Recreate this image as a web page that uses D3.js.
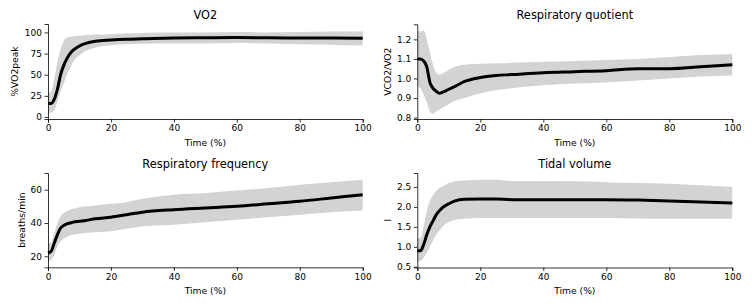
<!DOCTYPE html>
<html>
<head>
<meta charset="utf-8">
<script src="https://cdn.jsdelivr.net/npm/d3@7"></script>
<style>
  body { margin: 0; background: #fff; }
  svg text { font-family: "DejaVu Sans", sans-serif; fill: #000; }
</style>
</head>
<body>
<div id="chart"></div>
<script>
// time points (% of test)
var time = [0, 1, 2, 3, 4, 5, 6, 7, 8, 10, 12, 15, 20, 25, 30, 40, 50, 60, 70, 80, 90, 100];

var vo2Mean = [16, 16, 21, 33, 50, 61, 69, 75, 79, 84, 87, 89.5, 91, 92, 92.5, 93.5, 93.8, 94, 93.7, 93.5, 93.3, 93];
var vo2Upper = [28, 30, 45, 65, 80, 90, 94, 95, 95.5, 96, 97, 97.5, 98, 99, 99.5, 100, 100, 100.5, 100, 100.5, 101, 101];
var vo2Lower = [5, 5, 8, 18, 30, 40, 50, 58, 65, 73, 78, 82, 85, 86, 86.5, 87, 87, 87.5, 87, 86, 85.5, 84.5];

var rqMean = [1.10, 1.10, 1.09, 1.06, 0.98, 0.95, 0.935, 0.925, 0.93, 0.945, 0.96, 0.985, 1.005, 1.015, 1.02, 1.03, 1.035, 1.04, 1.05, 1.05, 1.06, 1.07];
var rqUpper = [1.24, 1.24, 1.245, 1.2, 1.13, 1.07, 1.03, 1.02, 1.025, 1.045, 1.06, 1.07, 1.075, 1.078, 1.08, 1.085, 1.09, 1.095, 1.1, 1.11, 1.12, 1.125];
var rqLower = [0.96, 0.95, 0.92, 0.88, 0.83, 0.82, 0.83, 0.84, 0.85, 0.87, 0.885, 0.9, 0.925, 0.94, 0.95, 0.965, 0.975, 0.98, 0.99, 1.0, 1.01, 1.015];

var rfMean = [22, 23, 28, 33, 37, 38.5, 39.5, 40, 40.5, 41, 41.5, 42.5, 43.5, 45, 46.5, 48, 49, 50, 51.5, 53, 55, 57];
var rfUpper = [28, 28, 34, 40, 44, 46, 47, 48, 48.5, 49.5, 50, 50.5, 51.5, 52.5, 54.5, 57, 58, 59.5, 61, 63, 64.5, 66];
var rfLower = [17, 18, 21, 26, 29, 30.5, 31.5, 32.5, 33, 33.5, 34, 34.5, 35, 36.5, 38, 39, 40.5, 42, 43.5, 45, 46.5, 47.5];

var tvMean = [0.9, 0.9, 1.05, 1.3, 1.5, 1.65, 1.8, 1.9, 1.98, 2.08, 2.15, 2.19, 2.2, 2.2, 2.18, 2.18, 2.18, 2.18, 2.17, 2.15, 2.12, 2.1];
var tvUpper = [1.22, 1.22, 1.5, 1.9, 2.15, 2.3, 2.4, 2.47, 2.52, 2.6, 2.64, 2.66, 2.68, 2.68, 2.65, 2.65, 2.64, 2.62, 2.6, 2.58, 2.54, 2.5];
var tvLower = [0.62, 0.65, 0.72, 0.85, 1.0, 1.15, 1.3, 1.4, 1.5, 1.62, 1.68, 1.7, 1.72, 1.72, 1.72, 1.72, 1.72, 1.72, 1.71, 1.7, 1.7, 1.7];

var xTicks = [0, 20, 40, 60, 80, 100];

var svg = d3.select("#chart")
    .append("svg")
    .attr("width", 752)
    .attr("height", 307);

var panel = function (opt) {
    var x = d3.scaleLinear().domain([0, 100]).range([opt.left, opt.right]);
    var y = d3.scaleLinear().domain(opt.domain).range([opt.bottom, opt.top]);

    var rows = time.map(function (t, i) {
        return { t: t, m: opt.mean[i], lo: opt.lower[i], hi: opt.upper[i] };
    });

    var g = svg.append("g");

    g.append("path")
        .datum(rows)
        .attr("fill", "#d3d3d3")
        .attr("d", d3.area()
            .x(function (d) { return x(d.t); })
            .y0(function (d) { return y(d.lo); })
            .y1(function (d) { return y(d.hi); })
            .curve(d3.curveMonotoneX));

    g.append("path")
        .datum(rows)
        .attr("fill", "none")
        .attr("stroke", "#000")
        .attr("stroke-width", 3)
        .attr("d", d3.line()
            .x(function (d) { return x(d.t); })
            .y(function (d) { return y(d.m); })
            .curve(d3.curveMonotoneX));

    var xa = g.append("g")
        .attr("transform", "translate(0," + opt.bottom + ")")
        .call(d3.axisBottom(x).tickValues(xTicks).tickSize(3.5).tickPadding(2.5));
    var ya = g.append("g")
        .attr("transform", "translate(" + opt.left + ",0)")
        .call(d3.axisLeft(y).tickValues(opt.ticks).tickFormat(d3.format(opt.fmt)).tickSize(3.5).tickPadding(2.5));

    [xa, ya].forEach(function (a) {
        a.selectAll("text").style("font-size", "9px").attr("fill", "#000");
        a.selectAll("line").attr("stroke", "#000").attr("stroke-width", 0.8);
        a.select(".domain").attr("stroke", "#000").attr("stroke-width", 0.8);
    });

    g.append("text")
        .attr("x", (opt.left + opt.right) / 2)
        .attr("y", opt.top - 5.5)
        .attr("text-anchor", "middle")
        .style("font-size", "11.4px")
        .text(opt.title);

    g.append("text")
        .attr("x", (opt.left + opt.right) / 2)
        .attr("y", opt.bottom + 26.5)
        .attr("text-anchor", "middle")
        .style("font-size", "9.2px")
        .text("Time (%)");

    g.append("text")
        .attr("transform", "translate(" + opt.ylabX + "," + (opt.top + opt.bottom) / 2 + ")rotate(-90)")
        .attr("text-anchor", "middle")
        .style("font-size", "9.2px")
        .text(opt.ylabel);
};

panel({ title: "VO2", ylabel: "%VO2peak", left: 48, right: 362.7, top: 24, bottom: 119,
    domain: [-2.4, 110], ticks: [0, 25, 50, 75, 100], fmt: "d", ylabX: 18,
    mean: vo2Mean, upper: vo2Upper, lower: vo2Lower });

panel({ title: "Respiratory quotient", ylabel: "VCO2/VO2", left: 417.3, right: 732.3, top: 24.3, bottom: 119,
    domain: [0.793, 1.277], ticks: [0.8, 0.9, 1.0, 1.1, 1.2], fmt: ".1f", ylabX: 391,
    mean: rqMean, upper: rqUpper, lower: rqLower });

panel({ title: "Respiratory frequency", ylabel: "breaths/min", left: 48, right: 362.7, top: 173, bottom: 267.3,
    domain: [13.4, 70], ticks: [20, 40, 60], fmt: "d", ylabX: 25,
    mean: rfMean, upper: rfUpper, lower: rfLower });

panel({ title: "Tidal volume", ylabel: "l", left: 417.3, right: 732.3, top: 173, bottom: 267.5,
    domain: [0.48, 2.85], ticks: [0.5, 1.0, 1.5, 2.0, 2.5], fmt: ".1f", ylabX: 391,
    mean: tvMean, upper: tvUpper, lower: tvLower });
</script>
</body>
</html>
